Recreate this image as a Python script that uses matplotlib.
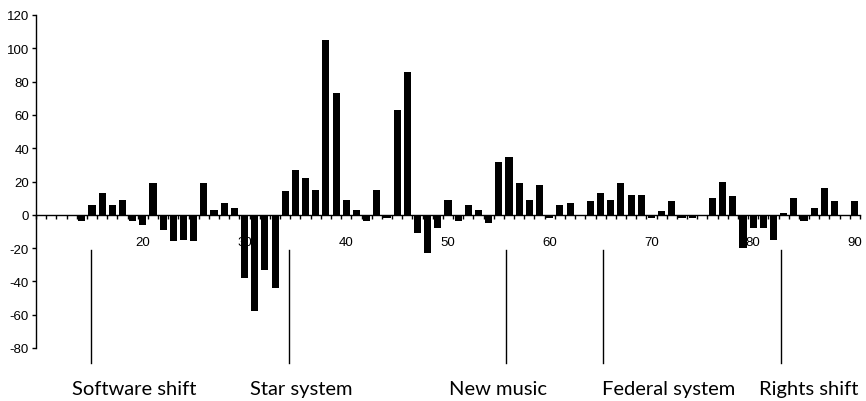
import matplotlib
matplotlib.use("Agg")
import matplotlib.pyplot as plt
import numpy as np

# yearly values (years 1910-1990, shown as 10..90)
years = list(range(10, 91))
values = [0, 0, 0, 0, -4, 6, 13, 6, 9, -4,
          -6, 19, -9, -16, -15, -16, 19, 3, 7, 4,
          -38, -58, -33, -44, 14, 27, 22, 15, 105, 73,
          9, 3, -4, 15, -2, 63, 86, -11, -23, -8,
          9, -4, 6, 3, -5, 32, 35, 19, 9, 18,
          -2, 6, 7, 0, 8, 13, 9, 19, 12, 12,
          -2, 2, 8, -2, -2, 0, 10, 20, 11, -20,
          -8, -8, -15, 1, 10, -4, 4, 16, 8, -1,
          8]

xtick_labels = [20, 30, 40, 50, 60, 70, 80, 90]
yticks = [-80, -60, -40, -20, 0, 20, 40, 60, 80, 100, 120]

# shift markers and their captions
event_names = ["Software shift", "Star system", "New music", "Federal system", "Rights shift"]
event_years = [14.9, 34.4, 55.7, 65.2, 82.7]
label_years = [19.2, 35.6, 54.9, 71.7, 85.5]

fig = plt.figure(figsize=(8.66, 4.02), dpi=100)
ax = fig.add_axes([36 / 866, 1 - 349 / 402, (860 - 36) / 866, (349 - 16) / 402])

ax.bar(years, values, width=0.7, color="black", linewidth=0, zorder=3)

ax.set_xlim(9.5, 90.5)
ax.set_ylim(-80, 120)

ax.spines["top"].set_visible(False)
ax.spines["right"].set_visible(False)
ax.spines["bottom"].set_position(("data", 0))
ax.spines["left"].set_linewidth(1.0)
ax.spines["bottom"].set_linewidth(1.0)

ax.set_yticks(yticks)
ax.set_yticklabels([str(v) for v in yticks])
ax.tick_params(axis="y", direction="out", length=3, width=1, pad=2,
               labelsize=9.5)

ax.set_xticks(xtick_labels)
ax.set_xticklabels([str(v) for v in xtick_labels])
ax.set_xticks(np.arange(9.5, 91, 1), minor=True)
ax.tick_params(axis="x", which="major", length=0, pad=15, labelsize=9.5)
ax.tick_params(axis="x", which="minor", direction="out", length=3, width=1)
for lab in ax.get_xticklabels() + ax.get_yticklabels():
    lab.set_family("Liberation Sans")

for name, ey, ly in zip(event_names, event_years, label_years):
    ax.plot([ey, ey], [-21, -89], color="black", linewidth=1, clip_on=False)
    ax.text(ly, -107.5, name, ha="center", va="baseline", fontsize=14.5,
            family="Lato", clip_on=False)

fig.savefig("out.png", dpi=100)
